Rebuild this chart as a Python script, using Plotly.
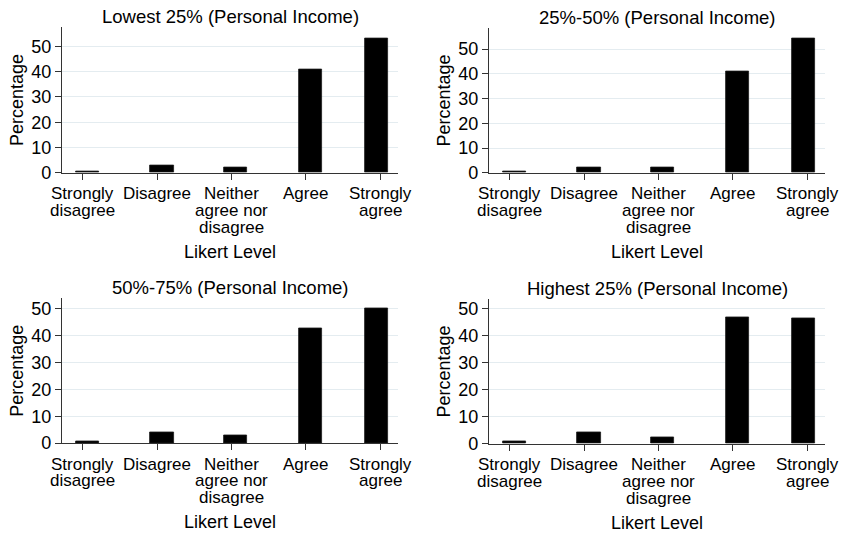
import plotly.graph_objects as go

# Likert response categories and their display labels (one list entry per line)
categories = ["Strongly disagree", "Disagree", "Neither agree nor disagree", "Agree", "Strongly agree"]
category_lines = [
    ["Strongly", "disagree"],
    ["Disagree"],
    ["Neither", "agree nor", "disagree"],
    ["Agree"],
    ["Strongly", "agree"],
]

# Panel titles (personal income quartiles)
panel_titles = [
    "Lowest 25% (Personal Income)",
    "25%-50% (Personal Income)",
    "50%-75% (Personal Income)",
    "Highest 25% (Personal Income)",
]

# Percentage of respondents per Likert level, one list per quartile
pct_lowest = [0.5, 2.8, 1.9, 40.8, 53.3]
pct_25_50 = [0.5, 2.2, 2.0, 41.0, 54.3]
pct_50_75 = [0.7, 3.9, 2.9, 42.6, 50.0]
pct_highest = [0.9, 4.1, 2.3, 46.6, 46.4]
panel_values = [pct_lowest, pct_25_50, pct_50_75, pct_highest]

y_ticks = [0, 10, 20, 30, 40, 50]

# Layout of the 2x2 grid (pixel geometry of an 842x543 page)
W, H = 842, 543
x_domains = [(62 / W, 398 / W), (489 / W, 825 / W)]
y_domains = [(1 - 176 / H, 1 - 28 / H), (1 - 176 / H, 1 - 29 / H),
             (1 - 451.5 / H, 1 - 304 / H), (1 - 452 / H, 1 - 305 / H)]
y_tops = [57.5, 58.3, 53.8, 53.4]
bar_width = 0.31
bar_shift = [0.065, 0.065, 0.06, 0.065, -0.05]

FONT = "Liberation Sans, Arial, sans-serif"
AXIS_COLOR = "#333333"
GRID_COLOR = "#e4ecf0"

fig = go.Figure()
annotations = []

for k, (title, values) in enumerate(zip(panel_titles, panel_values)):
    n = k + 1
    xa = "x" if n == 1 else f"x{n}"
    ya = "y" if n == 1 else f"y{n}"
    fig.add_trace(go.Bar(
        x=categories, y=values, xaxis=xa, yaxis=ya,
        width=bar_width,
        offset=[s - bar_width / 2 for s in bar_shift],
        marker=dict(color="#000000", line=dict(color="#1a1a1a", width=0.8)),
        showlegend=False, hoverinfo="x+y",
    ))
    xd = x_domains[k % 2]
    yd = y_domains[k]
    axis_common = dict(
        showline=True, linecolor=AXIS_COLOR, linewidth=1.2,
        ticks="outside", ticklen=6, tickcolor=AXIS_COLOR, tickwidth=1.2,
    )
    fig.layout[f"xaxis{'' if n == 1 else n}"] = dict(
        domain=list(xd), anchor=ya, type="category",
        categoryorder="array", categoryarray=categories,
        range=[-0.28, 4.24], showticklabels=False, showgrid=False,
        zeroline=False, fixedrange=True, **axis_common,
    )
    fig.layout[f"yaxis{'' if n == 1 else n}"] = dict(
        domain=list(yd), anchor=xa, range=[0, y_tops[k]],
        tickvals=y_ticks, ticktext=[str(v) for v in y_ticks],
        tickfont=dict(family=FONT, size=18, color="#000000"),
        showgrid=True, gridcolor=GRID_COLOR, gridwidth=1,
        zeroline=False, fixedrange=True, **axis_common,
    )

    xdom = f"{xa} domain"
    ydom = f"{ya} domain"
    # Panel title
    annotations.append(dict(
        text=title, xref=xdom, yref=ydom, x=0.5, y=1, yshift=11,
        xanchor="center", yanchor="middle", showarrow=False,
        font=dict(family=FONT, size=18.5, color="#000000"),
    ))
    # Y axis title
    annotations.append(dict(
        text="Percentage", xref=xdom, yref=ydom, x=0, y=0.5, xshift=-45,
        xanchor="center", yanchor="middle", textangle=-90, showarrow=False,
        font=dict(family=FONT, size=18, color="#000000"),
    ))
    # X axis title
    annotations.append(dict(
        text="Likert Level", xref=xdom, yref=ydom, x=0.5, y=0, yshift=-79,
        xanchor="center", yanchor="middle", showarrow=False,
        font=dict(family=FONT, size=18, color="#000000"),
    ))
    # Category tick labels, line by line
    for cat, lines in zip(categories, category_lines):
        for j, line in enumerate(lines):
            annotations.append(dict(
                text=line, xref=xa, yref=ydom, x=cat, y=0,
                yshift=-21 - 16.7 * j,
                xanchor="center", yanchor="middle", showarrow=False,
                font=dict(family=FONT, size=17, color="#000000"),
            ))

fig.update_layout(
    width=W, height=H,
    margin=dict(l=0, r=0, t=0, b=0),
    paper_bgcolor="white", plot_bgcolor="white",
    annotations=annotations,
    bargap=0,
)

fig.write_html("out.html")
